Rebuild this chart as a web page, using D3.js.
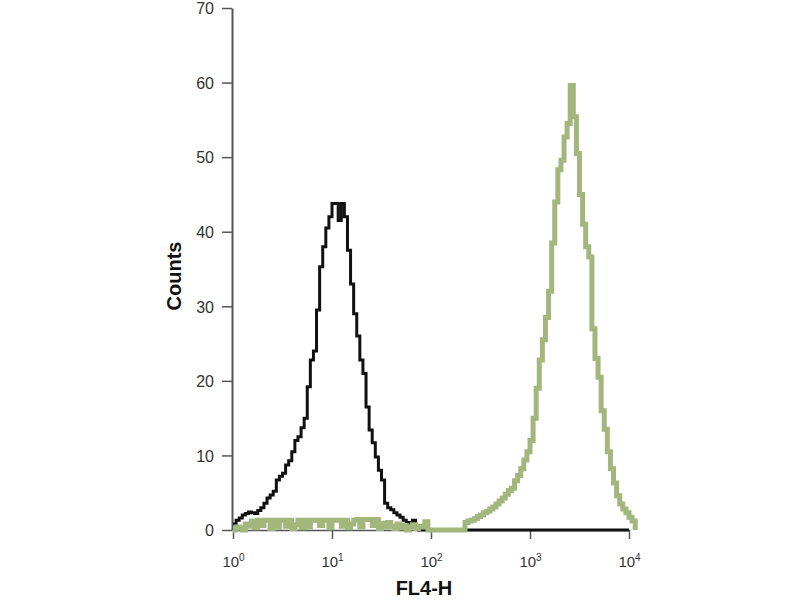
<!DOCTYPE html>
<html>
<head>
<meta charset="utf-8">
<script src="https://cdn.jsdelivr.net/npm/d3@7"></script>
<style>
  html, body { margin: 0; padding: 0; background: #fff; }
  svg { display: block; }
  text { font-family: "Liberation Sans", Arial, sans-serif; }
</style>
</head>
<body>
<svg id="chart" width="800" height="600"></svg>
<script>
// ---- data ----
const channelsPerDecade = 32;           // histogram channels per log decade
const xTickValues = [1, 10, 100, 1000, 10000];
const xTickExponents = ["0", "1", "2", "3", "4"];
const yTickValues = [0, 10, 20, 30, 40, 50, 60, 70];

// isotype control (black)
const isotypeCounts = [
  0.8, 1.3, 1.6, 2.0, 2.2, 2.4, 2.3, 2.2, 2.6, 3.0,
  3.6, 4.3, 4.7, 5.2, 6.7, 7.2, 7.6, 8.7, 9.3, 10.5,
  12.0, 12.5, 13.7, 15.0, 19.2, 22.8, 24.0, 29.5, 35.3, 38.0,
  40.5, 42.0, 43.8, 43.8, 41.5, 43.8, 42.0, 37.5, 33.0, 29.0,
  26.0, 22.8, 21.0, 16.5, 13.4, 11.7, 9.8, 8.0, 6.7, 3.6,
  3.0, 2.7, 2.3, 2.0, 1.7, 1.3, 1.0, 0.9, 1.3, 0.4,
  0, 0, 0, 0, 0, 0, 0, 0, 0, 0,
  0, 0, 0, 0, 0, 0, 0, 0, 0, 0,
  0, 0, 0, 0, 0, 0, 0, 0, 0, 0,
  0, 0, 0, 0, 0, 0, 0, 0, 0, 0,
  0, 0, 0, 0, 0, 0, 0, 0, 0, 0,
  0, 0, 0, 0, 0, 0, 0, 0, 0, 0,
  0, 0, 0, 0, 0, 0, 0, 0
];

// stained sample (green)
const stainedCounts = [
  0, 0.4, 0.3, 0, 0.8, 0.5, 1.2, 0.3, 1.3, 0.6,
  1.3, 1.3, 0.2, 1.3, 0.4, 1.3, 1.3, 0.5, 1.3, 0.2,
  0.7, 1.3, 0.3, 1.3, 0.4, 1.3, 1.3, 1.3, 0.6, 1.3,
  1.3, 0.3, 1.3, 1.3, 1.3, 0.5, 1.3, 0.3, 0.8, 1.3,
  1.4, 0.4, 1.4, 1.4, 1.4, 0.6, 1.4, 0.2, 0.9, 0.4,
  1.0, 0.5, 0.2, 0.8, 0.3, 0.6, 0, 0.4, 0.7, 0.2,
  0.5, 0.4, 1.1, 0, 0, 0, 0, 0, 0, 0,
  0, 0, 0, 0, 0, 1.0, 1.2, 1.3, 1.5, 1.8,
  2.0, 2.3, 2.5, 2.8, 3.1, 3.5, 3.9, 4.3, 4.8, 5.3,
  5.6, 6.6, 7.3, 8.2, 9.4, 10.5, 12.0, 15.0, 19.0, 22.8,
  25.5, 28.5, 32.0, 38.5, 44.0, 48.3, 49.6, 52.7, 54.5, 59.6,
  55.4, 50.5, 45.0, 41.0, 38.0, 36.6, 27.0, 23.0, 20.5, 16.0,
  13.5, 10.5, 8.2, 6.3, 4.6, 3.5, 2.8, 2.3, 1.7, 1.2
];

// ---- layout ----
const svg = d3.select("#chart");
const x = d3.scaleLog().domain([1, 10000]).range([233, 629]);
const y = d3.scaleLinear().domain([0, 70]).range([530, 8]);

const edge = i => Math.pow(10, i / channelsPerDecade);

function stepPoints(counts) {
  const pts = counts.map((c, i) => [edge(i), c]);
  pts.push([edge(counts.length), counts[counts.length - 1]]);
  pts.push([edge(counts.length), 0]);
  return pts;
}

const line = d3.line()
  .x(d => x(d[0]))
  .y(d => y(d[1]))
  .curve(d3.curveStepAfter);

// axes
const yAxis = d3.axisLeft(y).tickValues(yTickValues).tickSize(10).tickSizeOuter(0).tickPadding(8);
const gy = svg.append("g").attr("transform", "translate(232,0)").call(yAxis);
gy.attr("font-size", null).attr("font-family", null);
gy.select(".domain").attr("stroke", "#555").attr("stroke-width", 2);
gy.selectAll(".tick line").attr("stroke", "#555").attr("stroke-width", 1.5);
gy.selectAll(".tick text").attr("fill", "#333").attr("font-size", 16).attr("dy", "0.36em");

const xAxis = d3.axisBottom(x).tickValues(xTickValues).tickSize(9).tickSizeOuter(0).tickFormat(() => "");
const gx = svg.append("g").attr("transform", "translate(0,530)").call(xAxis);
gx.attr("font-size", null).attr("font-family", null);
gx.select(".domain").attr("stroke", "#555").attr("stroke-width", 1.5);
gx.selectAll(".tick line").attr("stroke", "#555").attr("stroke-width", 1.5);
gx.selectAll(".tick").each(function (d, i) {
  const t = d3.select(this).append("text")
    .attr("y", 37).attr("text-anchor", "middle")
    .attr("fill", "#333").attr("font-size", 15);
  t.append("tspan").text("10");
  t.append("tspan").attr("dy", -6).attr("font-size", 10).text(xTickExponents[i]);
});

// histograms
svg.append("path")
  .attr("d", line(stepPoints(isotypeCounts)))
  .attr("fill", "none")
  .attr("stroke", "#111")
  .attr("stroke-width", 3)
  .attr("stroke-linejoin", "miter");

svg.append("path")
  .attr("d", line(stepPoints(stainedCounts)))
  .attr("fill", "none")
  .attr("stroke", "#a3b77c")
  .attr("stroke-width", 5)
  .attr("stroke-linejoin", "miter");

// axis titles
svg.append("text")
  .attr("x", 424).attr("y", 595)
  .attr("text-anchor", "middle")
  .attr("font-size", 20).attr("font-weight", "bold")
  .attr("fill", "#111")
  .text("FL4-H");

svg.append("text")
  .attr("transform", "translate(181,276) rotate(-90)")
  .attr("text-anchor", "middle")
  .attr("font-size", 20).attr("font-weight", "bold")
  .attr("fill", "#111")
  .text("Counts");
</script>
</body>
</html>
